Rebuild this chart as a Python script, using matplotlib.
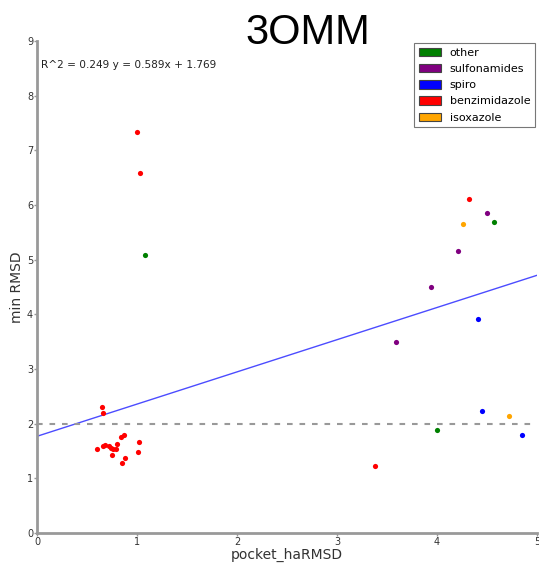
import matplotlib
matplotlib.use("Agg")
import matplotlib.pyplot as plt
from matplotlib.patches import Patch
import numpy as np

categories = ["other", "sulfonamides", "spiro", "benzimidazole", "isoxazole"]
colors = {"other": "green", "sulfonamides": "purple", "spiro": "blue",
          "benzimidazole": "red", "isoxazole": "orange"}

benz_x = [0.65, 0.66, 0.60, 0.66, 0.68, 0.72, 0.74, 0.76, 0.79, 0.80, 0.75,
          0.84, 0.87, 1.02, 1.01, 0.88, 0.85, 1.00, 1.03, 4.32, 3.38]
benz_y = [2.31, 2.19, 1.53, 1.60, 1.61, 1.60, 1.55, 1.54, 1.54, 1.63, 1.43,
          1.75, 1.79, 1.66, 1.49, 1.37, 1.28, 7.33, 6.59, 6.11, 1.22]
other_x = [1.08, 4.57, 4.00]
other_y = [5.08, 5.69, 1.88]
sulf_x = [4.50, 4.21, 3.94, 3.59]
sulf_y = [5.85, 5.15, 4.50, 3.49]
spiro_x = [4.41, 4.45, 4.85]
spiro_y = [3.91, 2.24, 1.80]
isox_x = [4.26, 4.72]
isox_y = [5.66, 2.14]

slope = 0.589
intercept = 1.769
r2 = 0.249
threshold = 2.0

fig = plt.figure(figsize=(5.39, 5.64), dpi=100)
ax = fig.add_axes([37/539, 1-533/564, 500/539, 492/564])

series = [("benzimidazole", benz_x, benz_y), ("other", other_x, other_y),
          ("sulfonamides", sulf_x, sulf_y), ("spiro", spiro_x, spiro_y),
          ("isoxazole", isox_x, isox_y)]
for name, xs, ys in series:
    ax.scatter(xs, ys, s=14, color=colors[name], linewidths=0, zorder=3)

xl = np.array([0, 5])
ax.plot(xl, slope*xl + intercept, color="blue", lw=1, alpha=0.7)
ax.axhline(threshold, color="#999999", ls="--", lw=1.5, dashes=(2.7, 3.3))

ax.set_xlim(0, 5)
ax.set_ylim(0, 9)
ax.set_xticks(range(6))
ax.set_yticks(range(10))
for s in ["top", "right"]:
    ax.spines[s].set_visible(False)
for s in ["left", "bottom"]:
    ax.spines[s].set_color("#999999")
    ax.spines[s].set_linewidth(2)
ax.tick_params(axis="both", labelsize=7, colors="#999999", labelcolor="#333333",
               length=2, width=1, pad=0.8, direction="out")
ax.set_xlabel("pocket_haRMSD", fontsize=10, color="#333333", labelpad=1)
ax.set_ylabel("min RMSD", fontsize=10, color="#333333", labelpad=2)

ax.text(0.04, 8.57, "R^2 = %.3f y = %.3fx + %.3f" % (r2, slope, intercept),
        fontsize=7.6, color="#222222", va="center", ha="left")

handles = [Patch(facecolor=colors[c], edgecolor="#444444", lw=0.8, label=c) for c in categories]
leg = ax.legend(handles=handles, loc="upper right", fontsize=8, frameon=True,
                fancybox=False, edgecolor="#555555", handlelength=2.0,
                handleheight=0.8, borderpad=0.4, labelspacing=0.55,
                borderaxespad=0.2, bbox_to_anchor=(1.0, 1.0))
leg.get_frame().set_linewidth(0.8)

fig.text(308/539, 1-33/564, "3OMM", fontsize=30, ha="center", va="center",
         family="Liberation Sans")

fig.savefig("out.png", dpi=100)
